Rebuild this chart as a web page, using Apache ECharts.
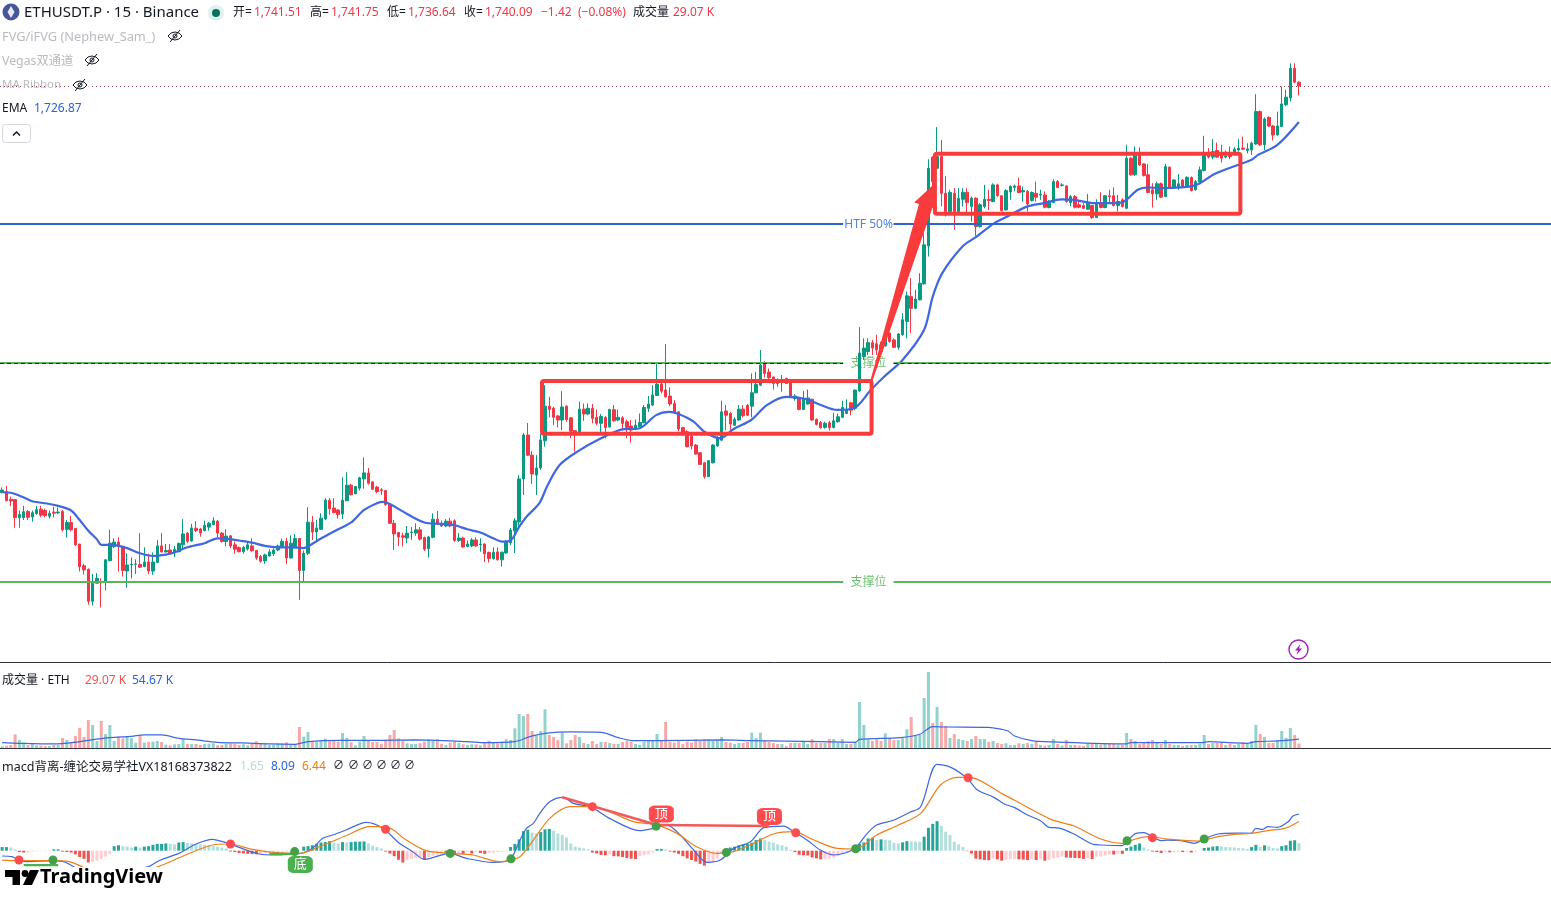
<!DOCTYPE html>
<html>
<head>
<meta charset="utf-8">
<title>ETHUSDT.P 15</title>
<style>
html,body{margin:0;padding:0;background:#fff;overflow:hidden}
#chart{width:1551px;height:903px}
</style>
<script src="https://cdn.jsdelivr.net/npm/echarts@6/dist/echarts.min.js"></script>
</head>
<body>
<div id="chart"></div>
<script>
// 15 minute candles, each row is [open, close, low, high]
const candles = [
[1590.9,1591.8,1590.6,1592.8],[1591.2,1587.9,1587.7,1593.3],[1588.4,1587.8,1585.9,1589.4],[1588.3,1581.7,1578.0,1588.4],[1581.7,1582.8,1578.0,1584.3],
[1581.7,1583.8,1580.8,1586.0],[1583.9,1581.8,1580.8,1584.5],[1581.9,1583.5,1580.2,1584.3],[1583.2,1584.6,1582.7,1586.0],[1584.8,1582.6,1581.8,1586.0],
[1584.3,1582.4,1581.8,1585.0],[1582.2,1583.3,1581.3,1584.3],[1583.7,1583.3,1581.8,1585.7],[1583.4,1583.7,1583.0,1585.4],[1583.9,1577.2,1576.6,1584.5],
[1577.4,1579.9,1574.4,1580.8],[1579.9,1577.2,1576.6,1582.3],[1577.7,1571.7,1571.3,1577.7],[1572.0,1563.7,1561.9,1572.0],[1564.0,1562.5,1560.8,1564.7],
[1562.7,1551.0,1549.7,1563.0],[1551.0,1557.6,1549.4,1561.0],[1557.6,1559.4,1557.6,1561.3],[1557.9,1557.8,1548.7,1559.4],[1558.1,1566.2,1554.9,1566.4],
[1565.9,1572.3,1565.6,1577.2],[1571.0,1572.7,1570.5,1574.1],[1572.7,1571.1,1561.9,1574.5],[1571.1,1562.3,1560.1,1571.3],[1562.1,1564.3,1556.0,1568.6],
[1564.3,1564.6,1559.4,1567.1],[1564.6,1564.7,1561.0,1566.4],[1564.5,1563.5,1563.2,1576.0],[1563.7,1565.4,1563.5,1570.8],[1565.4,1562.1,1560.9,1568.4],
[1562.1,1565.4,1560.7,1568.9],[1565.2,1571.3,1565.0,1573.5],[1571.3,1569.1,1568.9,1576.0],[1569.1,1569.6,1568.9,1572.0],[1569.8,1568.6,1568.4,1572.0],
[1568.9,1570.0,1567.2,1571.3],[1569.2,1572.2,1568.9,1572.5],[1571.7,1575.7,1570.5,1581.1],[1576.0,1573.0,1572.3,1576.4],[1573.1,1577.9,1572.9,1579.4],
[1577.8,1576.9,1576.4,1580.4],[1577.5,1576.0,1574.7,1577.9],[1576.9,1578.9,1576.7,1580.6],[1578.2,1579.6,1576.9,1580.1],[1579.1,1580.5,1578.9,1581.8],
[1580.4,1576.0,1574.5,1580.8],[1576.0,1572.9,1572.5,1576.4],[1572.9,1574.9,1571.1,1577.4],[1575.0,1571.3,1570.5,1575.3],[1571.7,1570.1,1568.4,1572.9],
[1570.7,1569.2,1568.9,1571.1],[1569.2,1570.7,1568.4,1571.3],[1570.2,1571.7,1569.6,1572.7],[1571.3,1569.5,1569.2,1574.1],[1569.7,1566.9,1566.2,1569.8],
[1567.4,1565.7,1565.2,1568.0],[1565.8,1568.0,1564.7,1568.5],[1567.6,1569.1,1567.4,1570.1],[1568.4,1569.8,1567.6,1570.4],[1569.8,1571.3,1569.4,1571.8],
[1571.1,1573.0,1570.6,1574.0],[1573.0,1566.9,1564.7,1574.2],[1566.9,1572.3,1566.7,1575.2],[1570.8,1574.0,1570.5,1575.7],[1574.0,1562.3,1551.5,1574.0],
[1562.3,1568.6,1558.2,1569.6],[1568.6,1580.0,1567.9,1585.5],[1580.0,1576.4,1573.5,1582.3],[1576.4,1577.9,1573.3,1580.8],[1577.4,1581.5,1577.2,1583.3],
[1581.2,1588.1,1580.8,1588.8],[1588.1,1584.9,1582.7,1588.8],[1585.2,1583.5,1583.3,1588.8],[1584.5,1582.8,1581.3,1584.8],[1583.0,1588.1,1581.2,1596.5],
[1587.9,1593.6,1587.7,1598.3],[1593.6,1590.1,1589.8,1594.1],[1590.4,1593.1,1590.4,1593.3],[1592.5,1596.3,1591.6,1596.7],[1595.9,1598.1,1592.3,1603.8],
[1598.0,1594.3,1593.8,1599.9],[1594.8,1592.1,1591.9,1595.0],[1592.9,1591.2,1590.6,1593.3],[1591.9,1591.6,1590.0,1592.5],[1591.6,1586.5,1586.0,1591.8],
[1586.6,1579.6,1579.4,1587.0],[1579.6,1575.7,1569.8,1580.8],[1576.2,1574.6,1571.3,1576.4],[1575.0,1574.5,1571.1,1576.2],[1574.2,1576.0,1572.3,1578.6],
[1576.2,1576.4,1573.5,1578.2],[1576.0,1577.2,1575.0,1579.6],[1577.2,1573.8,1573.3,1578.2],[1574.4,1570.1,1569.4,1574.7],[1570.3,1574.6,1567.0,1575.0],
[1574.5,1581.1,1574.1,1583.3],[1581.1,1579.4,1578.9,1584.1],[1579.4,1578.6,1578.2,1580.6],[1578.6,1580.4,1578.2,1581.1],[1580.4,1578.6,1578.2,1581.6],
[1580.5,1573.3,1572.8,1581.1],[1573.3,1574.2,1572.8,1576.0],[1574.2,1570.9,1570.6,1574.7],[1571.1,1572.0,1570.8,1573.3],[1571.3,1573.5,1570.8,1574.2],
[1573.5,1571.3,1570.9,1574.5],[1571.8,1572.0,1569.2,1574.1],[1572.0,1568.4,1565.4,1572.3],[1568.9,1566.7,1565.2,1569.2],[1566.7,1568.9,1566.2,1570.8],
[1569.1,1566.2,1565.9,1570.8],[1566.2,1569.0,1563.7,1569.2],[1568.7,1572.7,1568.4,1573.5],[1572.4,1577.1,1571.6,1577.9],[1576.8,1580.5,1568.7,1581.5],
[1580.1,1595.9,1578.2,1597.3],[1595.9,1612.0,1590.0,1612.7],[1612.0,1604.6,1604.3,1616.4],[1604.6,1597.7,1594.0,1606.1],[1597.3,1599.9,1590.0,1604.6],
[1599.9,1610.2,1599.2,1612.4],[1609.9,1622.6,1607.7,1630.3],[1622.6,1621.4,1618.5,1626.0],[1621.8,1618.5,1615.6,1622.4],[1619.0,1617.5,1614.8,1619.4],
[1617.5,1622.3,1613.8,1628.1],[1622.6,1617.7,1616.9,1622.9],[1618.3,1613.4,1610.8,1618.5],[1613.6,1613.2,1605.9,1613.8],[1613.2,1621.5,1612.8,1624.2],
[1621.5,1619.7,1617.2,1623.6],[1619.7,1621.8,1619.3,1623.6],[1621.8,1618.1,1616.3,1623.4],[1618.5,1616.3,1615.6,1621.4],[1616.3,1618.8,1612.8,1619.7],
[1618.5,1614.8,1610.8,1618.9],[1615.0,1621.4,1614.7,1621.6],[1621.3,1617.2,1616.9,1623.0],[1617.5,1618.5,1617.0,1621.4],[1618.3,1616.3,1613.8,1618.9],
[1616.9,1614.8,1610.8,1617.7],[1615.3,1613.8,1609.2,1617.5],[1614.1,1615.6,1613.8,1617.7],[1615.0,1616.6,1614.8,1619.9],[1616.5,1622.1,1616.3,1623.0],
[1621.8,1623.4,1620.5,1626.3],[1623.0,1626.7,1622.6,1630.3],[1626.5,1630.7,1626.3,1638.3],[1630.7,1628.1,1627.3,1632.2],[1628.5,1626.0,1625.7,1645.4],
[1626.3,1623.4,1622.6,1629.5],[1623.6,1620.2,1619.9,1624.8],[1620.5,1614.2,1613.4,1620.5],[1614.7,1612.6,1612.3,1615.0],[1613.2,1607.7,1607.5,1613.8],
[1611.6,1608.0,1606.7,1612.6],[1608.3,1605.0,1604.8,1608.7],[1605.5,1601.2,1601.0,1605.7],[1601.8,1596.7,1596.0,1602.1],[1596.7,1602.6,1596.6,1602.8],
[1601.8,1608.3,1601.6,1608.7],[1608.0,1610.8,1607.7,1611.6],[1610.1,1620.5,1609.9,1624.6],[1620.8,1619.3,1613.8,1623.0],[1619.9,1616.0,1613.2,1620.5],
[1615.6,1617.8,1615.3,1618.5],[1617.5,1621.5,1617.2,1623.0],[1621.5,1619.1,1618.5,1623.0],[1622.9,1619.3,1619.0,1623.4],[1622.6,1627.5,1618.5,1634.6],
[1627.5,1630.6,1627.3,1635.2],[1630.3,1637.7,1630.0,1643.2],[1638.6,1634.6,1633.1,1639.1],[1635.1,1633.0,1632.4,1636.4],[1633.3,1630.9,1628.7,1633.4],
[1631.8,1630.9,1629.7,1632.8],[1631.3,1632.4,1627.9,1634.0],[1632.8,1630.9,1630.7,1633.0],[1631.5,1626.0,1625.7,1631.5],[1625.4,1626.3,1624.6,1627.0],
[1625.8,1621.4,1621.1,1626.0],[1621.4,1625.3,1621.1,1628.2],[1623.4,1625.6,1623.1,1628.7],[1625.1,1617.5,1617.2,1625.4],[1617.7,1615.9,1615.5,1618.1],
[1616.6,1614.7,1614.3,1617.2],[1614.8,1616.3,1614.3,1616.9],[1616.5,1614.7,1613.6,1617.2],[1614.8,1617.2,1614.4,1620.2],[1616.9,1618.7,1616.5,1619.9],
[1618.5,1622.1,1618.2,1624.6],[1619.9,1621.4,1619.7,1625.1],[1623.8,1621.1,1619.3,1624.2],[1621.8,1628.5,1621.1,1628.7],[1628.2,1642.1,1627.8,1651.6],
[1640.8,1643.9,1639.6,1647.5],[1642.6,1645.9,1641.4,1647.5],[1645.9,1643.9,1641.4,1646.9],[1645.5,1643.3,1641.4,1648.8],[1645.1,1642.6,1642.0,1646.3],
[1644.7,1649.1,1644.5,1650.0],[1649.4,1646.3,1645.9,1649.6],[1646.9,1644.2,1643.9,1647.5],[1644.2,1649.1,1643.3,1649.4],[1648.8,1654.3,1648.4,1656.7],
[1653.7,1663.1,1647.5,1664.7],[1662.8,1658.5,1649.4,1669.6],[1658.5,1661.9,1658.2,1665.3],[1661.6,1667.7,1661.4,1671.4],[1667.5,1681.8,1667.1,1686.1],
[1681.4,1709.9,1677.5,1713.2],[1714.0,1705.0,1697.1,1714.2],[1709.9,1714.2,1709.5,1725.0],[1714.2,1700.7,1695.9,1720.3],[1700.7,1694.0,1692.2,1707.1],
[1694.0,1701.0,1693.4,1702.0],[1700.7,1694.0,1687.3,1702.6],[1694.0,1698.9,1693.6,1702.6],[1698.5,1701.1,1695.9,1702.6],[1701.1,1697.3,1693.4,1702.6],
[1695.9,1698.9,1690.3,1699.5],[1698.9,1688.5,1685.1,1699.3],[1688.5,1696.5,1688.1,1697.1],[1695.9,1698.5,1695.2,1703.8],[1698.5,1698.1,1694.6,1702.0],
[1697.7,1703.8,1697.4,1704.4],[1703.8,1699.8,1699.5,1704.2],[1699.8,1694.4,1694.0,1700.0],[1694.6,1701.7,1694.4,1702.2],[1701.2,1703.2,1698.3,1703.7],
[1702.9,1703.4,1701.4,1703.9],[1703.4,1701.0,1700.7,1706.4],[1701.2,1701.7,1697.7,1703.2],[1701.4,1696.8,1694.0,1702.0],[1698.1,1701.0,1697.7,1701.4],
[1700.7,1699.3,1697.7,1705.0],[1700.1,1700.4,1698.3,1702.0],[1700.1,1695.6,1695.2,1701.4],[1695.5,1697.7,1695.2,1698.3],[1697.3,1705.0,1697.1,1705.9],
[1705.0,1702.8,1702.6,1705.6],[1703.6,1703.8,1703.2,1704.4],[1703.4,1697.7,1697.3,1703.7],[1697.3,1699.5,1695.9,1700.1],[1699.5,1695.6,1695.2,1700.1],
[1696.5,1695.6,1695.2,1698.3],[1696.2,1695.2,1694.9,1697.1],[1694.9,1697.1,1694.6,1700.5],[1696.2,1691.8,1691.3,1696.5],[1691.8,1697.3,1691.6,1698.5],
[1697.3,1695.5,1695.2,1701.1],[1695.5,1699.8,1695.2,1700.1],[1699.8,1699.5,1697.1,1702.0],[1699.8,1696.2,1695.9,1702.9],[1696.2,1697.7,1694.0,1700.1],
[1698.3,1695.9,1695.5,1698.9],[1695.2,1713.6,1694.9,1718.5],[1713.6,1707.5,1707.1,1713.9],[1707.5,1714.8,1707.1,1717.9],[1714.8,1711.1,1710.8,1717.6],
[1711.5,1707.2,1706.9,1711.7],[1707.5,1701.0,1700.7,1711.5],[1702.0,1700.5,1695.5,1704.4],[1700.5,1704.2,1698.3,1705.0],[1704.2,1699.3,1698.9,1704.7],
[1699.5,1710.5,1699.3,1711.5],[1710.3,1702.9,1702.6,1710.5],[1702.9,1705.6,1702.7,1705.9],[1703.2,1704.2,1702.0,1707.8],[1705.6,1703.2,1702.7,1705.9],
[1703.2,1706.6,1702.9,1706.9],[1706.5,1701.7,1701.4,1706.9],[1702.0,1705.0,1701.7,1705.6],[1705.0,1709.3,1704.7,1710.5],[1709.1,1714.8,1708.7,1721.8],
[1714.8,1714.0,1713.5,1717.3],[1714.0,1716.0,1713.2,1720.6],[1716.4,1714.0,1713.7,1719.3],[1715.2,1713.6,1712.0,1718.5],[1714.0,1714.4,1713.6,1716.4],
[1714.8,1714.2,1713.2,1717.9],[1715.8,1716.9,1714.8,1717.6],[1716.6,1717.3,1716.0,1720.6],[1717.3,1716.9,1716.6,1721.5],[1716.4,1717.0,1715.4,1719.1],
[1716.6,1719.1,1714.8,1719.7],[1718.8,1730.7,1718.5,1737.1],[1730.7,1718.5,1718.1,1731.1],[1718.5,1728.0,1716.6,1728.6],[1728.6,1725.4,1725.0,1728.9],
[1725.4,1722.1,1720.1,1725.8],[1722.1,1725.4,1721.9,1730.7],[1725.2,1733.5,1725.0,1739.9],[1733.2,1736.0,1732.8,1738.7],[1735.7,1746.6,1734.4,1748.4],
[1746.6,1741.5,1741.1,1748.4],[1741.51,1740.09,1736.64,1741.75]
];

// Traded volume per candle, thousands of ETH
const volumes = [
12,16,20,84,50,34,20,26,18,16,14,14,20,20,62,50,34,74,122,68,170,140,44,164,86,140,44,70,60,74,
62,34,76,34,38,40,44,38,22,18,24,26,56,26,26,26,20,26,28,30,18,20,28,28,26,20,24,18,30,42,
30,30,20,20,30,28,36,24,24,128,70,98,40,40,50,58,44,46,40,92,62,36,18,40,74,50,38,38,26,50,
80,110,60,46,30,26,26,30,40,54,50,54,26,20,34,40,32,24,20,24,24,18,34,46,34,30,40,54,50,120,
206,194,206,104,80,104,234,80,68,50,94,30,50,80,68,32,26,44,26,38,38,32,26,26,38,46,40,26,20,40,
48,48,86,46,158,40,34,42,26,40,34,54,46,54,54,46,50,68,38,34,26,32,32,38,94,62,94,46,38,32,
26,26,14,32,32,32,44,26,54,32,32,32,56,56,34,56,26,26,40,278,140,54,44,54,44,90,60,50,50,60,
114,188,80,80,302,458,152,248,158,134,62,86,56,50,44,56,74,56,56,38,44,32,26,30,20,20,30,26,32,26,
40,20,16,20,56,26,16,50,20,20,16,14,26,26,26,22,26,26,26,22,22,92,56,44,26,36,42,50,32,26,
50,26,20,20,14,20,20,20,28,80,26,32,32,36,20,26,20,26,38,26,44,140,86,68,32,32,44,104,62,122,
80,29.07
];

// EMA readings as [candle index, price]
const emaPoints = [
[0,1591.0],[2,1590.8],[5,1589.1],[7,1587.7],[11,1586.7],[13,1586.0],[16,1584.3],[18,1580.8],[20,1576.9],[22,1573.7],[23,1571.7],[26,1571.6],
[29,1570.5],[32,1568.6],[35,1567.6],[38,1568.1],[40,1568.9],[43,1570.8],[47,1572.3],[50,1574.1],[52,1574.0],[55,1573.3],[58,1572.5],[61,1571.3],
[64,1570.8],[67,1570.8],[70,1570.5],[71,1571.1],[74,1574.0],[78,1577.4],[81,1579.9],[84,1584.5],[87,1587.0],[88.4,1587.5],[90,1586.7],[94,1583.0],
[98,1579.9],[102,1579.4],[105,1578.9],[108,1577.4],[111,1576.2],[114,1574.1],[116,1572.9],[118,1573.3],[120,1578.3],[121.7,1582.0],[124.7,1587.0],
[126.6,1593.6],[129.4,1601.0],[133.5,1605.9],[139,1610.8],[144,1614.1],[147.8,1614.4],[151.8,1619.3],[154.8,1620.5],[157,1619.7],[160.5,1616.9],
[163,1613.2],[166.7,1610.8],[169.7,1614.1],[174,1617.7],[177.5,1623.0],[182,1626.0],[186.6,1625.2],[190,1623.0],[193.8,1621.2],[197.7,1621.8],
[201.6,1628.5],[204.7,1633.4],[209,1639.5],[214,1650.6],[216,1662.8],[218.2,1671.4],[222.9,1681.2],[226,1684.6],[230.2,1689.7],[233.3,1692.2],
[238,1695.9],[241.8,1697.1],[245.8,1698.5],[248.8,1698.3],[253.5,1697.1],[259.7,1697.3],[263.6,1702.0],[266,1702.9],[269,1702.6],[276.9,1703.6],
[281.4,1707.8],[286.8,1711.1],[290,1713.0],[291.5,1714.8],[296,1718.5],[301,1726.87]
];

// Volume moving average as [candle index, thousands]
const volumeMaPoints = [
[0,34],[4,30],[12,26],[17,36],[20,48],[25,64],[30,72],[33,80],[37,80],[41,60],[45,50],[50,36],[56,32],[62,26],[68,24],[71,40],[78,48],[88,48],[96,50],
[108,40],[112,34],[119,40],[122.5,70],[126,90],[132,98],[139,96],[143,64],[146.5,46],[151,46],[167,50],[174,46],[190,40],[198,36],[199,54],[208.5,64],
[213,84],[216,130],[219,128],[229,126],[232,114],[233.5,104],[235,74],[239,46],[244,38],[261,26],[261.8,34],[278.5,34],[280,40],[286,32],[289,30],
[291,40],[296,44],[301,54.67]
];

// MACD line as [candle index, value]
const macdPoints = [
[0,-1.17],[2.3,-1.32],[3.9,-2.06],[5.4,-2.42],[11.6,-2.2],[14,-2.35],[15.5,-2.94],[17.8,-4.26],[20,-6.1],[25,-6.8],[29,-5.1],[30.6,-4.26],[34,-3.52],
[36.4,-2.2],[41,-0.59],[45,1.47],[48.8,2.5],[52,1.76],[55,0.73],[59.7,-0.73],[63.6,-0.95],[67.4,-0.73],[69.4,-0.59],[72,0.51],[74.4,2.72],[76.7,3.45],
[79.8,4.55],[84.5,6.24],[88.4,4.92],[92.2,1.62],[95.3,-0.22],[98,-1.91],[103.9,-0.59],[107.8,-1.69],[114,-2.57],[117.8,-2.06],[119.5,0.88],
[120.2,2.35],[121.7,4.92],[123.3,6.02],[124.8,8.22],[127.1,10.79],[130.2,11.75],[132.6,10.43],[136.8,9.54],[141,7.12],[148,4.41],[151.2,4.92],
[154.3,5.65],[157.4,3.45],[160.5,0.15],[163.6,-2.57],[166.7,-2.06],[169.8,0.51],[173.7,1.98],[176.8,5.07],[181.4,5.43],[183.7,4.19],[186.8,2.35],
[189.9,0.15],[193,-0.95],[197.7,0.37],[200.8,3.82],[203,5.65],[207,6.75],[210.5,8.37],[213.2,9.69],[217,19.02],[220.2,18.36],[224,15.93],[226.4,13.36],
[230.2,11.75],[232.6,10.3],[234.9,9.54],[238,7.86],[241,6.61],[243,5.14],[245.4,4.99],[248.8,3.67],[253,1.47],[255,1.25],[260,1.1],[261.2,2.2],
[263.2,3.82],[265,3.96],[266.7,3.23],[269,2.2],[270.5,2.35],[273.7,2.2],[276.7,1.62],[279,2.57],[282.2,3.67],[286,3.89],[289.9,3.82],[291,4.92],
[292.6,4.7],[293.8,5.29],[296,5.14],[298.5,6.39],[299.6,7.64],[301,8.09]
];

// Signal line as [candle index, value]
const signalPoints = [
[0,-2.06],[3.1,-2.2],[7,-2.2],[11.6,-2.2],[15.5,-2.42],[18.6,-3.52],[21,-4.6],[25,-6.1],[29,-5.7],[33.3,-4.48],[37.2,-3.16],[42.6,-0.95],[48.8,1.25],
[52.7,1.47],[58.1,0.29],[63.6,-0.44],[69,-0.59],[73.6,0.88],[79.8,3.3],[85.3,5.29],[89,5.29],[93.8,2.35],[98.4,0],[103.9,-0.59],[109.3,-0.95],[115.5,-2.42],
[117.8,-2.06],[120.2,-1.32],[123.3,2.35],[127.1,7.12],[131.8,9.69],[136.8,9.69],[141,8.59],[146.5,6.39],[152,5.65],[156.6,3.82],[161.2,0.88],[165.9,-0.59],
[169.8,-0.22],[174.4,1.62],[179,3.67],[183.7,4.19],[188.4,2.35],[193.8,0.51],[198,0.37],[203,3.45],[207.7,5.51],[213.2,8.22],[217.8,14.46],[221.7,16.15],
[224.4,16.15],[232.6,12.3],[237,10.06],[243.4,6.9],[248.8,5.43],[255,2.57],[260,1.62],[262.8,2.5],[266,3.08],[270.5,2.57],[277.5,2.13],[282.2,3.08],[286,3.6],
[289.9,3.82],[294.6,4.55],[297.7,4.92],[301,6.44]
];

// MACD histogram, one value per candle
const histogram = [
.8,.8,.7,.3,-.3,-.4,-.4,-.2,-.1,-.1,
-.1,-.1,.3,.3,-.2,-.3,-.4,-.8,-1.4,-1.8,
-2.6,-2.5,-2.2,-1.9,-1.3,-.7,1.0,1.2,1.0,.9,
.7,.9,.7,.9,1.0,1.3,1.5,1.5,1.6,1.5,
1.4,1.8,1.9,1.7,1.6,1.5,1.4,1.3,1.2,1.0,
.9,.7,.5,-.2,-.3,-.5,-.6,-.7,-.75,-.8,
-.7,-.5,-.4,-.3,-.3,-.25,-.2,-.15,-.1,-.05,
.9,1.0,1.2,1.5,1.8,1.9,2.1,1.8,1.6,1.9,
1.8,1.9,2.0,2.0,2.05,1.6,1.1,.8,.5,-.2,
-.6,-1.2,-2.0,-2.6,-2.0,-1.8,-1.6,-1.4,-2.0,-1.4,
-1.1,-.9,-.4,-.5,-.6,-.7,-.5,-.7,-.3,-.6,
-.3,-.5,-.7,-.5,-.4,-.3,-.2,-.1,.8,1.5,
2.5,4.3,4.6,4.0,3.8,4.1,4.7,4.8,4.4,3.8,
3.45,2.9,1.6,.9,.7,.5,.3,-.4,-.6,-.95,
-1.0,-.8,-1.2,-1.25,-1.4,-1.6,-1.75,-1.85,-1.2,-1.0,
-.8,-.4,.35,.4,.3,-.2,-.4,-.7,-1.2,-1.7,
-2.05,-2.4,-2.9,-3.3,-2.8,-2.6,-1.7,-.6,.5,.7,
.9,1.2,1.4,1.5,1.75,2.35,2.7,2.35,2.0,1.75,
1.4,1.2,.9,.2,-.3,-.9,-1.0,-1.05,-1.5,-1.7,
-1.9,-1.8,-1.7,-1.5,-1.2,-.7,-.4,-.2,-.05,1.5,
1.8,2.7,2.85,2.35,2.5,2.4,2.3,1.75,1.6,1.85,
2.1,2.05,2.0,1.95,3.1,5.05,5.9,6.5,5.4,4.2,
3.45,2.0,1.4,.8,-.1,-.6,-1.75,-1.9,-2.05,-2.1,
-1.7,-1.9,-2.2,-2.0,-1.9,-1.8,-1.9,-1.95,-2.05,-1.9,
-2.05,-1.9,-2.2,-2.05,-1.7,-1.5,-1.3,-1.5,-1.55,-1.6,
-1.65,-1.8,-1.7,-1.85,-1.3,-1.25,-1.1,-.8,-.85,-.6,
-.7,.6,.9,1.3,1.6,.7,.3,-.2,-.3,-.5,
-.3,-.35,-.3,-.25,-.3,-.2,-.4,-.2,-.1,.6,
.7,.9,1.0,.95,.8,.75,.7,.6,.55,.4,
.8,1.3,.9,1.2,1.0,.6,.5,1.0,1.2,2.2,
2.3,1.65
];

// Crossover signals as [candle index, macd value]
const topDots = [[3.9,-2.05],[53,1.47],[89,4.7],[137,9.7],[184.2,3.96],[224.2,16.08],[267,2.86]];
const bottomDots = [[11.8,-2.05],[67.9,-0.2],[104,-0.6],[118.1,-1.8],[151.8,5.4],[168.1,-0.37],[198.1,0.44],[261.1,2.2],[279,2.57]];

// Divergence segments and their tags on the MACD pane
const topDivergences = [[[130,11.76],[152,5.66]],[[152,5.66],[178,5.44]]];
const bottomDivergences = [[[5,-3.16],[13,-3.16]],[[62,-0.7],[68,-0.7]]];
const topTags = [[153,8.08],[178.1,7.53]];
const bottomTags = [[69.2,-3.04],[7.6,-5.57]];

// Horizontal price levels
const htfLevel = 1689.4;
const upperSupport = 1638.4;
const lowerSupport = 1558.0;
const lastClose = 1740.09;
const levelCaptions = [[201.1,htfLevel,'HTF 50%','#2962d9'],[201.1,upperSupport,'支撑位','#4caf50'],[201.1,lowerSupport,'支撑位','#4caf50']];
// Candle span where a level line breaks around its caption
const captionGap = [195.2,206.9];

// Hand drawn consolidation boxes as [first candle, last candle, top price, bottom price]
const consolidationBoxes = [[125.3,201.8,1631.8,1612.5],[216.5,287.4,1715.2,1693.2]];
// Hand drawn arrow as [tail candle, tail price, tip candle, tip price]
const breakoutArrow = [[201.6,1631.1,215.8,1703.4]];

const headerQuote = {open:'1,741.51',high:'1,741.75',low:'1,736.64',close:'1,740.09',change:'−1.42',percent:'(−0.08%)',volume:'29.07 K'};

const UP = '#089981', DOWN = '#f23645', ANNOTATION = '#f93b3b';
const SLOTS = 360;
const categories = Array.from({length:SLOTS},(_,i)=>String(i));
const sansFont = '"Noto Sans","Noto Sans CJK SC",sans-serif';

const upDown = candles.map(c=>c[1]>=c[0]);
const histColor = (v,i)=>{
  const prev = i>0 ? histogram[i-1] : v;
  if (v>=0) return v>=prev ? '#26a69a' : '#b2dfdb';
  return v<prev ? '#ef5350' : '#ffcdd2';
};

// Text helper for the legend rows
function txt(x,y,text,fill,size,weight){
  return {type:'text',x,y:y+2,z:200,silent:true,style:{text,fill,font:(weight||'normal')+' '+(size||12)+'px '+sansFont,verticalAlign:'middle',align:'left'}};
}
function eye(x,y){
  const s={stroke:'#131722',lineWidth:1,fill:null};
  return [
    {type:'circle',z:199,silent:true,shape:{cx:x,cy:y,r:9},style:{fill:'#fff'}},
    {type:'polyline',z:200,silent:true,shape:{points:[[x-7,y],[x-4,y-3],[x,y-4],[x+4,y-3],[x+7,y],[x+4,y+3],[x,y+4],[x-4,y+3],[x-7,y]]},style:s},
    {type:'circle',z:200,silent:true,shape:{cx:x,cy:y,r:2},style:s},
    {type:'line',z:200,silent:true,shape:{x1:x-5,y1:y+6,x2:x+5,y2:y-6},style:{stroke:'#131722',lineWidth:1}}
  ];
}

const legend = [
  {type:'circle',z:200,silent:true,shape:{cx:11,cy:12,r:8.5},style:{fill:'#47569b'}},
  {type:'polygon',z:201,silent:true,shape:{points:[[11,6],[14.5,12],[11,18],[7.5,12]]},style:{fill:'#e8ebf7'}},
  txt(24,11,'ETHUSDT.P · 15 · Binance','#131722',15),
  {type:'circle',z:200,silent:true,shape:{cx:216,cy:13,r:8},style:{fill:'#dff1ee'}},
  {type:'circle',z:201,silent:true,shape:{cx:216,cy:13,r:4},style:{fill:'#08705c'}},
  txt(233,11,'开=','#131722'),txt(254,11,headerQuote.open,DOWN),
  txt(310,11,'高=','#131722'),txt(331,11,headerQuote.high,DOWN),
  txt(387,11,'低=','#131722'),txt(408,11,headerQuote.low,DOWN),
  txt(464,11,'收=','#131722'),txt(485,11,headerQuote.close,DOWN),
  txt(541,11,headerQuote.change,DOWN),txt(578,11,headerQuote.percent,DOWN),
  txt(633,11,'成交量','#131722'),txt(673,11,headerQuote.volume,DOWN),
  txt(2,35,'FVG/iFVG (Nephew_Sam_)','#b9bbc0',12.8),...eye(175,36),
  txt(2,59,'Vegas双通道','#b9bbc0',12.3),...eye(92,60),
  txt(2,83,'MA Ribbon','#b9bbc0',11.5),...eye(80,85),
  txt(2,107,'EMA','#131722'),txt(34,107,'1,726.87','#2962d9'),
  {type:'rect',z:200,silent:true,shape:{x:2.5,y:124.5,width:28,height:18,r:3},style:{fill:'#fff',stroke:'#d6d8de',lineWidth:1}},
  {type:'polyline',z:201,silent:true,shape:{points:[[13,135.5],[16.5,132],[20,135.5]]},style:{stroke:'#131722',lineWidth:1.5,fill:null}},
  txt(2,679,'成交量 · ETH','#131722'),txt(85,679,'29.07 K','#ef5350'),txt(132,679,'54.67 K','#2962d9'),
  txt(2,765,'macd背离-缠论交易学社VX18168373822','#131722',12.5),txt(240,765,'1.65','#b2dfdb'),txt(271,765,'8.09','#2962d9'),txt(302,765,'6.44','#f57c00'),
  ...[333,348,362,376,390,404].map(x=>txt(x,764,'∅','#131722',11)),
  // power button near the bottom of the price pane
  {type:'circle',z:200,silent:true,shape:{cx:1298.5,cy:649.5,r:9.5},style:{fill:'#fff',stroke:'#9c27b0',lineWidth:1.4}},
  {type:'polygon',z:201,silent:true,shape:{points:[[1300.5,644],[1295,650.5],[1298,650.5],[1296.5,655],[1302,648.5],[1299,648.5]]},style:{fill:'#9c27b0'}},
  // brand mark
  {type:'rect',z:200,silent:true,shape:{x:4,y:867,width:160,height:21},style:{fill:'#fff'}},
  {type:'polygon',z:201,silent:true,shape:{points:[[5,870],[20,870],[20,885],[12.5,885],[12.5,877],[5,877]]},style:{fill:'#000'}},
  {type:'circle',z:201,silent:true,shape:{cx:25,cy:873.5,r:3.4},style:{fill:'#000'}},
  {type:'polygon',z:201,silent:true,shape:{points:[[30,870],[39,870],[32,885],[23,885]]},style:{fill:'#000'}},
  txt(40,875,'TradingView','#000',20,'bold')
];

// Consolidation boxes drawn in price coordinates
function renderBox(params,api){
  const a=api.coord([api.value(0),api.value(2)]), b=api.coord([api.value(1),api.value(3)]);
  return {type:'rect',shape:{x:a[0],y:a[1],width:b[0]-a[0],height:b[1]-a[1],r:2},style:{fill:'none',stroke:ANNOTATION,lineWidth:4}};
}
// Arrow shape built between its tail and its tip
function renderArrow(params,api){
  const t=api.coord([api.value(0),api.value(1)]), p=api.coord([api.value(2),api.value(3)]);
  const len=Math.hypot(p[0]-t[0],p[1]-t[1]), ux=(p[0]-t[0])/len, uy=(p[1]-t[1])/len, nx=-uy, ny=ux;
  const at=(along,side)=>[t[0]+ux*along+nx*side,t[1]+uy*along+ny*side];
  const head=len-21;
  return {type:'polygon',shape:{points:[at(0,-1),at(head,-7),at(head,-12),at(len,0),at(head,12),at(head,7),at(0,1)]},style:{fill:ANNOTATION}};
}

// A level line in two pieces, leaving room for its caption
const brokenLevel = (price,color,width,type)=>{
  const lineStyle={color,width,type};
  return [
    [{coord:[-0.5,price],lineStyle},{coord:[captionGap[0],price]}],
    [{coord:[captionGap[1],price],lineStyle},{coord:[SLOTS-0.5,price]}]
  ];
};

const chart = echarts.init(document.getElementById('chart'),null,{renderer:'canvas'});
const overlayX = gridIndex=>({type:'value',gridIndex,min:-0.5,max:SLOTS-0.5,show:false});
const bandX = (gridIndex,line)=>({type:'category',gridIndex,data:categories,boundaryGap:true,
  axisLabel:{show:false},axisTick:{show:false},splitLine:{show:false},
  axisLine:{show:line,lineStyle:{color:'#2a2e39',width:1},onZero:false}});
const hiddenY = (gridIndex,min,max)=>({type:'value',gridIndex,min,max,show:false,scale:true});

chart.setOption({
  animation:false,
  backgroundColor:'#ffffff',
  grid:[
    {left:0,right:0,top:0,height:662},
    {left:0,right:0,top:663,height:85.3},
    {left:0,right:0,top:749,height:154}
  ],
  xAxis:[bandX(0,true),bandX(1,true),bandX(2,false),overlayX(0),overlayX(1),overlayX(2)],
  yAxis:[hiddenY(0,1528.7,1771.65),hiddenY(1,0,512),hiddenY(2,-11.52,22.4)],
  graphic:legend,
  series:[
    {type:'line',name:'levels',xAxisIndex:3,yAxisIndex:0,data:[],z:1,silent:true,
      markLine:{silent:true,symbol:'none',label:{show:false},animation:false,data:[
        ...brokenLevel(htfLevel,'#2b62d4',2,'solid'),
        ...brokenLevel(upperSupport,'#5cb461',2,'solid'),
        ...brokenLevel(upperSupport,'#1b2a1f',1,[4,3]),
        ...brokenLevel(lowerSupport,'#5cb461',2,'solid'),
        [{coord:[-0.5,lastClose],lineStyle:{color:'#8a4050',width:1,type:[1,3]}},{coord:[SLOTS-0.5,lastClose]}]
      ]}},
    {type:'scatter',name:'captions',xAxisIndex:3,yAxisIndex:0,z:1.5,symbolSize:1,silent:true,itemStyle:{color:'rgba(255,255,255,0)'},
      data:levelCaptions.map(c=>({value:[c[0],c[1]],label:{show:true,position:'inside',formatter:c[2],color:c[3],fontSize:12,fontFamily:sansFont}}))},
    {type:'candlestick',name:'ETHUSDT.P',xAxisIndex:0,yAxisIndex:0,z:2,silent:true,barWidth:3,data:candles,
      itemStyle:{color:UP,color0:DOWN,borderColor:UP,borderColor0:DOWN,borderWidth:1}},
    {type:'line',name:'EMA',xAxisIndex:3,yAxisIndex:0,z:3,silent:true,data:emaPoints,showSymbol:false,smooth:0.3,
      lineStyle:{color:'#3f68e0',width:2.2}},
    {type:'custom',name:'boxes',xAxisIndex:3,yAxisIndex:0,z:4,silent:true,data:consolidationBoxes,renderItem:renderBox,clip:false},
    {type:'custom',name:'arrow',xAxisIndex:3,yAxisIndex:0,z:5,silent:true,data:breakoutArrow,renderItem:renderArrow,clip:false},

    {type:'bar',name:'Volume',xAxisIndex:1,yAxisIndex:1,barWidth:3,silent:true,
      data:volumes.map((v,i)=>({value:v,itemStyle:{color:upDown[i]?'rgba(38,166,154,0.5)':'rgba(239,83,80,0.5)'}}))},
    {type:'line',name:'Volume MA',xAxisIndex:4,yAxisIndex:1,silent:true,data:volumeMaPoints,showSymbol:false,smooth:0.3,
      lineStyle:{color:'#3f68e0',width:1.2}},

    {type:'bar',name:'Histogram',xAxisIndex:2,yAxisIndex:2,barWidth:3,silent:true,
      data:histogram.map((v,i)=>({value:v,itemStyle:{color:histColor(v,i)}}))},
    {type:'line',name:'MACD',xAxisIndex:5,yAxisIndex:2,silent:true,data:macdPoints,showSymbol:false,smooth:0.3,
      lineStyle:{color:'#3f68e0',width:1.2},z:3},
    {type:'line',name:'Signal',xAxisIndex:5,yAxisIndex:2,silent:true,data:signalPoints,showSymbol:false,smooth:0.3,
      lineStyle:{color:'#ef7f1a',width:1.2},z:3},
    ...topDivergences.map((seg,k)=>({type:'line',name:'top divergence '+k,xAxisIndex:5,yAxisIndex:2,silent:true,z:4,data:seg,showSymbol:false,
      lineStyle:{color:'#f25a5a',width:2.6}})),
    ...bottomDivergences.map((seg,k)=>({type:'line',name:'bottom divergence '+k,xAxisIndex:5,yAxisIndex:2,silent:true,z:4,data:seg,showSymbol:false,
      lineStyle:{color:'#4caf50',width:2.2}})),
    {type:'scatter',name:'top crosses',xAxisIndex:5,yAxisIndex:2,silent:true,z:5,data:topDots,symbolSize:9,itemStyle:{color:'#ff4d4f',opacity:1}},
    {type:'scatter',name:'bottom crosses',xAxisIndex:5,yAxisIndex:2,silent:true,z:5,data:bottomDots,symbolSize:9,itemStyle:{color:'#43a047',opacity:1}},
    {type:'scatter',name:'top tags',xAxisIndex:5,yAxisIndex:2,silent:true,z:6,data:topTags,symbol:'roundRect',symbolSize:[25,17],itemStyle:{color:'#ff4d4f',opacity:1},
      label:{show:true,position:'inside',formatter:'顶',color:'#fff',fontSize:13,fontFamily:sansFont}},
    {type:'scatter',name:'bottom tags',xAxisIndex:5,yAxisIndex:2,silent:true,z:6,data:bottomTags,symbol:'roundRect',symbolSize:[25,17],itemStyle:{color:'#4caf50',opacity:1},
      label:{show:true,position:'inside',formatter:'底',color:'#fff',fontSize:13,fontFamily:sansFont}}
  ]
});
</script>
</body>
</html>
